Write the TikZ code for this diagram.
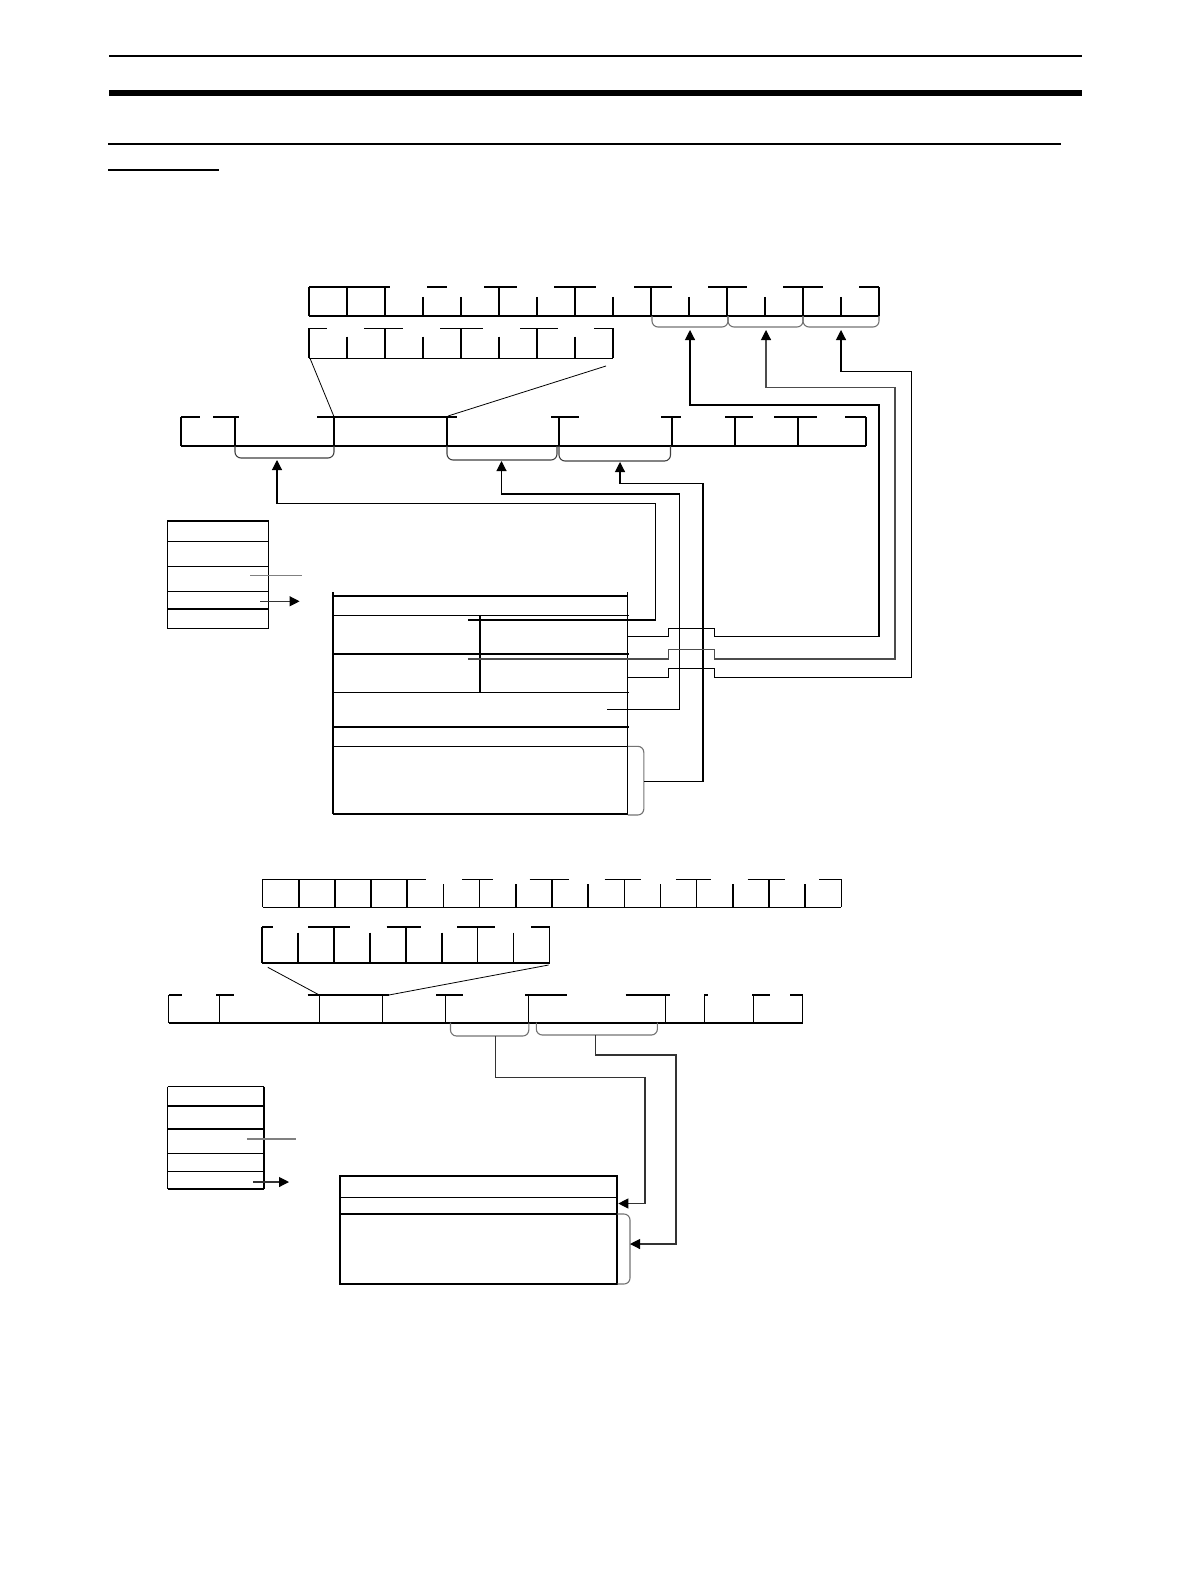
\documentclass[tikz,border=0pt]{standalone}
\usetikzlibrary{arrows.meta, positioning, calc}

\begin{document}
\begin{tikzpicture}[
    x=1pt, y=-1pt,
    reg/.style={line width=1.6pt},
    fine/.style={line width=1.1pt},
    bold/.style={line width=2pt},
    brace/.style={line width=1.1pt, black!55, rounded corners=6pt},
    link/.style={line width=1.1pt},
    arrow/.style={link, -{Triangle[length=10pt, width=10pt, fill=black, color=black]}}
]
\useasboundingbox (0,0) rectangle (1190,1586);

% page rules
\draw[line width=2pt] (109,55.7) -- (1082,55.7);
\draw[line width=5.5pt] (109,93) -- (1082,93);
\draw[line width=2pt] (108,144) -- (1061,144);
\draw[line width=2pt] (108,170) -- (219,170);

% ---------- upper figure ----------
% 16 bit word
\draw[reg] (309,316) -- (879,316);
\foreach \a/\b in {309/390, 427/447, 484/517, 554/596, 634/672, 708/747, 783/823, 859/879}
    \draw[reg] (\a,287) -- (\b,287);
\foreach \i in {0,1,2,5,7,9,11,13,15}
    \draw[reg] ({309+38*\i},287) -- ({309+38*\i},316);
\foreach \i in {3,4,6,8,10,12,14}
    \draw[reg] ({309+38*\i},297) -- ({309+38*\i},316);
\foreach \a/\b in {652/728, 728/803, 803/879}
    \draw[brace] (\a,316) -- (\a,327) -- (\b,327) -- (\b,316);

% 8 bit byte
\draw[reg] (309,358.3) -- (613,358.3);
\foreach \a/\b in {309/327, 364/403, 440/483, 520/558, 594/613}
    \draw[reg] (\a,328.3) -- (\b,328.3);
\foreach \i in {0,2,4,6,8}
    \draw[reg] ({309+38*\i},328.3) -- ({309+38*\i},358.3);
\foreach \i in {1,3,5,7}
    \draw[reg] ({309+38*\i},336.7) -- ({309+38*\i},358.3);

% zoom lines
\draw[line width=0.8pt] (310,358.3) -- (334,416.7);
\draw[line width=0.8pt] (606,366) -- (448,416);

% frame
\draw[fine] (181,446) -- (866,446);
\foreach \a/\b in {181/200, 213/239, 317/457, 551/579, 661/681, 725/753, 774/817, 845/866}
    \draw[fine] (\a,417) -- (\b,417);
\foreach \x in {181,334,447,559,672,735,798,866}
    \draw[fine] (\x,417) -- (\x,446);
\draw[bold] (235,417) -- (235,446);
\foreach \a/\b/\c in {235/334/458, 447/557/460, 559/670.5/461}
    \draw[brace, black!75] (\a,446) -- (\a,\c) -- (\b,\c) -- (\b,446);

% memory stack
\draw[fine] (167.3,520.7) -- (167.3,628.3);
\draw[fine] (268.6,520.7) -- (268.6,628.3);
\foreach \y/\w in {520.7/2pt, 541.7/1.1pt, 566.7/1.1pt, 591.3/1.1pt, 609.3/2pt, 628.3/1.1pt}
    \draw[line width=\w] (167.3,\y) -- (268.6,\y);
\draw[fine, black!50] (250,575.7) -- (302,575.7);
\draw[arrow, black!80] (260.3,601.3) -- (299.6,601.3);

% table
\draw[fine] (333,592) -- (333,814.3);
\draw[fine] (627.8,592) -- (627.8,814.3);
\draw[fine] (333,596) -- (627.8,596);
\foreach \y/\w in {615.3/1.1pt, 654/2pt, 692.7/1.1pt, 726.7/2pt, 746.3/1.1pt}
    \draw[line width=\w] (333,\y) -- (629,\y);
\draw[bold] (333,814.3) -- (627.8,814.3);
\draw[bold] (480.2,615.3) -- (480.2,692.7);
\draw[brace] (627.8,746.3) -- (643.8,746.3) -- (643.8,815) -- (627.8,815);

% connector ends
\coordinate (u1) at (690,330);
\coordinate (u2) at (766,330);
\coordinate (u3) at (841,330);
\coordinate (v1) at (277,460);
\coordinate (v2) at (501.5,461);
\coordinate (v3) at (620,462);
\coordinate (s1) at (467.8,620);
\coordinate (s2) at (607,709.3);
\coordinate (s3) at (643.8,781.3);
\coordinate (e1) at (627.8,636.3);
\coordinate (e2) at (467.8,659);
\coordinate (e3) at (627.8,677.3);

\draw[arrow] (s1) -- (655.9,620) -- (655.9,503.3) -| (v1);
\draw[arrow] (s2) -- (679.5,709.3) -- (679.5,494) -| (v2);
\draw[arrow] (s3) -- (703,781.3) -- (703,483.3) -| (v3);

\draw[arrow] (e1) -- (668.3,636.3) -- (668.3,628.3) -- (714.3,628.3) -- (714.3,636.3)
    -- (879,636.3) -- (879,405) -| (u1);
\draw[arrow, black!70] (e2) -- (668.3,659) -- (668.3,649.3) -- (714.3,649.3) -- (714.3,659)
    -- (895,659) -- (895,387.3) -| (u2);
\draw[arrow] (e3) -- (668.3,677.3) -- (668.3,668.3) -- (714.3,668.3) -- (714.3,677.3)
    -- (911.5,677.3) -- (911.5,371.7) -| (u3);

% ---------- lower figure ----------
% 16 bit word
\draw[reg] (262.6,907.3) -- (841.3,907.3);
\foreach \a/\b in {262.6/426.3, 462.4/493.2, 529.7/569.3, 604.5/640.6, 675.9/711, 747.6/785, 819.3/841.3}
    \draw[reg] (\a,879.3) -- (\b,879.3);
\foreach \i in {0,1,2,3,4,6,8,10,12,14,16}
    \draw[reg] ({262.6+36.17*\i},879.3) -- ({262.6+36.17*\i},907.3);
\foreach \i in {5,7,9,11,13,15}
    \draw[reg] ({262.6+36.17*\i},884) -- ({262.6+36.17*\i},907.3);

% 8 bit byte
\draw[reg] (262,962.7) -- (549.5,962.7);
\foreach \a/\b in {262/273, 308.3/350.1, 386.7/420.6, 457.1/495.4, 531/549.5}
    \draw[reg] (\a,926.7) -- (\b,926.7);
\foreach \i in {0,2,4,6,8}
    \draw[reg] ({262+35.94*\i},926.7) -- ({262+35.94*\i},962.7);
\foreach \i in {1,3,5,7}
    \draw[reg] ({262+35.94*\i},932.7) -- ({262+35.94*\i},962.7);

% zoom lines
\draw[line width=0.8pt] (267.8,967.3) -- (319.3,995);
\draw[line width=0.8pt] (548.6,965) -- (388.9,995);

% frame
\draw[bold] (168.8,1022.7) -- (802.6,1022.7);
\foreach \a/\b in {168.8/182, 216.3/234, 307.5/388.9, 436.4/462.8, 525.3/567.1, 625.7/669.7, 704.4/708, 752/769.6, 790.3/802.6}
    \draw[fine] (\a,995) -- (\b,995);
\foreach \x in {168.8,219.9,319.3,382.3,445.2,528.8,665.3,704.9,753.3,802.6}
    \draw[fine] (\x,995) -- (\x,1022.7);
\foreach \a/\b/\c in {450.5/528.8/1036, 536.3/657.4/1035}
    \draw[brace] (\a,1022.7) -- (\a,\c) -- (\b,\c) -- (\b,1022.7);

% memory stack
\draw[fine] (167.6,1086.7) -- (167.6,1189);
\draw[fine] (264,1086.7) -- (264,1189);
\foreach \y/\w in {1086.7/1.1pt, 1106/2pt, 1129.3/2pt, 1153.3/1.1pt, 1171.7/1.1pt, 1189/2pt}
    \draw[line width=\w] (167.6,\y) -- (264,\y);
\draw[fine, black!50] (246.8,1139) -- (296,1139);
\draw[arrow, black!80] (253,1182) -- (289,1182);

% table
\draw[bold] (340,1175.7) rectangle (617.3,1284);
\draw[fine] (340,1197.3) -- (617.3,1197.3);
\draw[fine] (340,1214) -- (617.3,1214);
\draw[brace] (617.3,1214) -- (630,1214) -- (630,1284) -- (617.3,1284);

% connector ends
\coordinate (w1) at (495.4,1036);
\coordinate (w2) at (595.7,1035);
\coordinate (d1) at (618.3,1203.5);
\coordinate (d2) at (630,1244);

\draw[arrow, black!80] (w1) -- (495.4,1077.7) -- (645,1077.7) |- (d1);
\draw[arrow, black!80] (w2) -- (595.7,1055) -- (676,1055) |- (d2);
\end{tikzpicture}
\end{document}
